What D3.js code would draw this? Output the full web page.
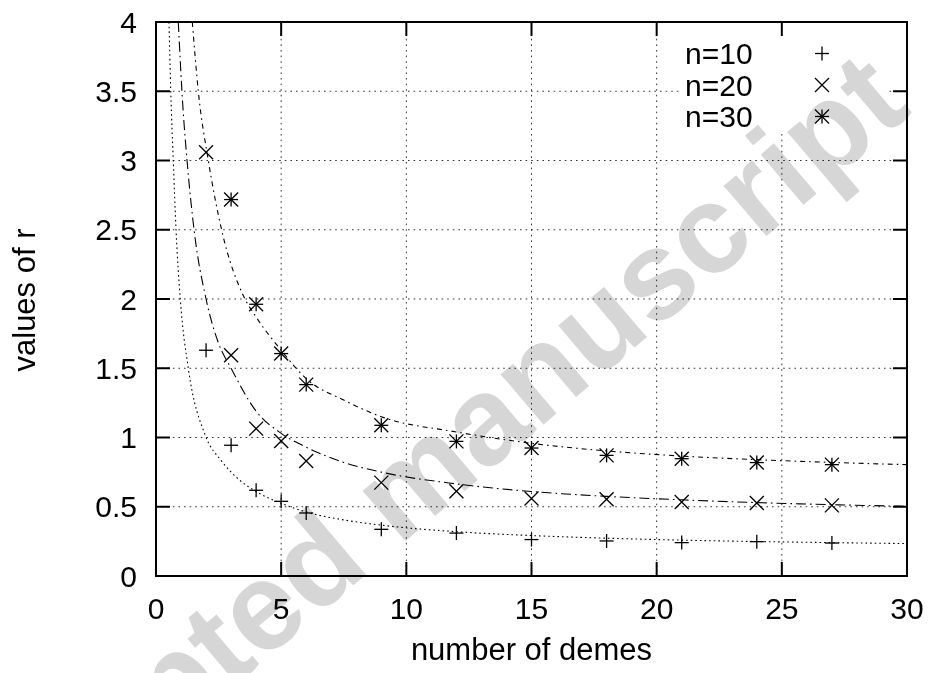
<!DOCTYPE html>
<html>
<head>
<meta charset="utf-8">
<script src="https://cdn.jsdelivr.net/npm/d3@7"></script>
<style>
  html, body { margin: 0; padding: 0; background: #ffffff; }
  svg { display: block; }
  text { font-family: "Liberation Sans", Arial, Helvetica, sans-serif; fill: #000; }
</style>
</head>
<body>
<svg id="chart" width="931" height="673"></svg>
<script>
// ---------- data ----------
const xTickValues = [0, 5, 10, 15, 20, 25, 30];
const xTickLabels = ["0", "5", "10", "15", "20", "25", "30"];
const yTickValues = [0, 0.5, 1, 1.5, 2, 2.5, 3, 3.5, 4];
const yTickLabels = ["0", "0.5", "1", "1.5", "2", "2.5", "3", "3.5", "4"];

const seriesNames = ["n=10", "n=20", "n=30"];

const demes10 = [2, 3, 4, 5, 6, 9, 12, 15, 18, 21, 24, 27];
const r10 = [1.63, 0.944, 0.619, 0.539, 0.455, 0.337, 0.31, 0.263, 0.253, 0.241, 0.248, 0.238];

const demes20 = [2, 3, 4, 5, 6, 9, 12, 15, 18, 21, 24, 27];
const r20 = [3.06, 1.594, 1.064, 0.975, 0.83, 0.674, 0.612, 0.559, 0.554, 0.534, 0.527, 0.51];

const demes30 = [3, 4, 5, 6, 9, 12, 15, 18, 21, 24, 27];
const r30 = [2.718, 1.962, 1.606, 1.382, 1.088, 0.972, 0.924, 0.871, 0.847, 0.819, 0.804];

// fitted curves
const curveX10 = [0.52, 0.59, 0.69, 0.80, 0.97, 1.29, 1.96, 2.62, 3.29, 4, 5, 6, 7.5, 9, 12, 15, 18, 21, 24, 27, 30];
const curveY10 = [4.0, 3.5, 3.0, 2.5, 2.0, 1.5, 1.02, 0.83, 0.70, 0.61, 0.525, 0.462, 0.405, 0.367, 0.32, 0.292, 0.273, 0.259, 0.249, 0.241, 0.234];

const curveX20 = [0.89, 1.07, 1.25, 1.52, 2, 2.5, 3, 4, 5, 6, 7.5, 9, 12, 15, 18, 21, 24, 27, 30];
const curveY20 = [4.0, 3.4, 2.98, 2.5, 2.0, 1.68, 1.50, 1.19, 1.03, 0.93, 0.82, 0.75, 0.665, 0.61, 0.575, 0.55, 0.53, 0.515, 0.503];

const curveX30 = [1.45, 1.69, 2.09, 2.62, 3.5, 4, 5, 6, 7.5, 9, 12, 15, 18, 21, 24, 27, 30];
const curveY30 = [4.0, 3.5, 3.0, 2.5, 2.02, 1.87, 1.63, 1.425, 1.27, 1.15, 1.04, 0.958, 0.903, 0.866, 0.84, 0.82, 0.804];

const xLabel = "number of demes";
const yLabel = "values of r";
const watermark = "Accepted manuscript";

// ---------- layout ----------
const W = 931, H = 673;
const margin = { left: 156, top: 22, right: 24, bottom: 97 };
const pw = W - margin.left - margin.right;   // 751
const ph = H - margin.top - margin.bottom;   // 554
const FONT = 30;

const svg = d3.select("#chart");
const g = svg.append("g").attr("transform", `translate(${margin.left},${margin.top})`);

const x = d3.scaleLinear().domain([0, 30]).range([0, pw]);
const y = d3.scaleLinear().domain([0, 4]).range([ph, 0]);

svg.append("defs").append("clipPath").attr("id", "plotclip")
  .append("rect").attr("x", 0).attr("y", 0).attr("width", pw).attr("height", ph);

// grid
const gridStyle = sel => sel.attr("stroke", "#000").attr("stroke-width", 1)
  .attr("stroke-dasharray", "1.6,4").attr("opacity", 0.8);
g.append("g").selectAll("line").data(xTickValues.filter(v => v > 0 && v < 30)).join("line")
  .attr("x1", d => x(d)).attr("x2", d => x(d)).attr("y1", 0).attr("y2", ph).call(gridStyle);
g.append("g").selectAll("line").data(yTickValues.filter(v => v > 0 && v < 4)).join("line")
  .attr("x1", 0).attr("x2", pw).attr("y1", d => y(d)).attr("y2", d => y(d)).call(gridStyle);

// legend box hides the grid
g.append("rect").attr("x", 524).attr("y", 1).attr("width", 207).attr("height", 108)
  .attr("fill", "#fff");

// curves
const line = d3.line().x(d => x(d[0])).y(d => y(d[1])).curve(d3.curveMonotoneX);
const curves = [
  { xs: curveX10, ys: curveY10, dash: "1.6,3" },
  { xs: curveX20, ys: curveY20, dash: "10,4,1.6,4" },
  { xs: curveX30, ys: curveY30, dash: "5,4,1.6,4" }
];
const cg = g.append("g").attr("clip-path", "url(#plotclip)");
curves.forEach(c => {
  cg.append("path")
    .datum(c.xs.map((v, i) => [v, c.ys[i]]))
    .attr("d", line)
    .attr("fill", "none")
    .attr("stroke", "#000")
    .attr("stroke-width", 1.1)
    .attr("stroke-dasharray", c.dash);
});

// markers
const MS = 7;
function drawMarker(sel, type) {
  const s = MS;
  if (type === 0 || type === 2) {
    sel.append("line").attr("x1", -s).attr("x2", s).attr("y1", 0).attr("y2", 0);
    sel.append("line").attr("x1", 0).attr("x2", 0).attr("y1", -s).attr("y2", s);
  }
  if (type === 1 || type === 2) {
    sel.append("line").attr("x1", -s).attr("x2", s).attr("y1", -s).attr("y2", s);
    sel.append("line").attr("x1", -s).attr("x2", s).attr("y1", s).attr("y2", -s);
  }
  sel.selectAll("line").attr("stroke", "#000").attr("stroke-width", 1.3);
}
const pointSets = [
  { xs: demes10, ys: r10, type: 0 },
  { xs: demes20, ys: r20, type: 1 },
  { xs: demes30, ys: r30, type: 2 }
];
pointSets.forEach(ps => {
  ps.xs.forEach((v, i) => {
    const m = g.append("g").attr("transform", `translate(${x(v)},${y(ps.ys[i])})`);
    drawMarker(m, ps.type);
  });
});

// legend
seriesNames.forEach((name, i) => {
  const cy = 31.5 + i * 31.5;
  g.append("text").attr("x", 529).attr("y", cy + 10.5)
    .style("font-size", FONT + "px").text(name);
  const m = g.append("g").attr("transform", `translate(666,${cy})`);
  drawMarker(m, i);
});

// frame
g.append("rect").attr("x", 0).attr("y", 0).attr("width", pw).attr("height", ph)
  .attr("fill", "none").attr("stroke", "#000").attr("stroke-width", 2);

// ticks (mirrored, inward)
const TL = 14;
const tk = g.append("g").attr("stroke", "#000").attr("stroke-width", 2);
xTickValues.forEach(v => {
  tk.append("line").attr("x1", x(v)).attr("x2", x(v)).attr("y1", ph).attr("y2", ph - TL);
  tk.append("line").attr("x1", x(v)).attr("x2", x(v)).attr("y1", 0).attr("y2", TL);
});
yTickValues.forEach(v => {
  tk.append("line").attr("x1", 0).attr("x2", TL).attr("y1", y(v)).attr("y2", y(v));
  tk.append("line").attr("x1", pw).attr("x2", pw - TL).attr("y1", y(v)).attr("y2", y(v));
});

// tick labels
g.append("g").selectAll("text").data(xTickValues).join("text")
  .attr("x", d => x(d)).attr("y", ph + 43)
  .attr("text-anchor", "middle")
  .style("font-size", FONT + "px")
  .text((d, i) => xTickLabels[i]);
g.append("g").selectAll("text").data(yTickValues).join("text")
  .attr("x", -19).attr("y", d => y(d) + 10.5)
  .attr("text-anchor", "end")
  .style("font-size", FONT + "px")
  .text((d, i) => yTickLabels[i]);

// axis titles
svg.append("text").attr("x", margin.left + pw / 2).attr("y", 660)
  .attr("text-anchor", "middle").style("font-size", "31px").text(xLabel);
svg.append("text").attr("transform", "translate(35,300) rotate(-90)")
  .attr("text-anchor", "middle").style("font-size", "31px").text(yLabel);

// watermark stamp (multiplied over the page, so black marks stay black)
svg.append("g")
  .attr("transform", "translate(-57.5,932.4) rotate(-40.2)")
  .style("mix-blend-mode", "multiply")
  .append("text")
  .attr("x", 0).attr("y", 0)
  .style("font-family", "'Liberation Sans', Arial, sans-serif")
  .style("font-weight", "bold")
  .style("font-size", "125px")
  .style("fill", "#d6d6d6")
  .text(watermark);
</script>
</body>
</html>
